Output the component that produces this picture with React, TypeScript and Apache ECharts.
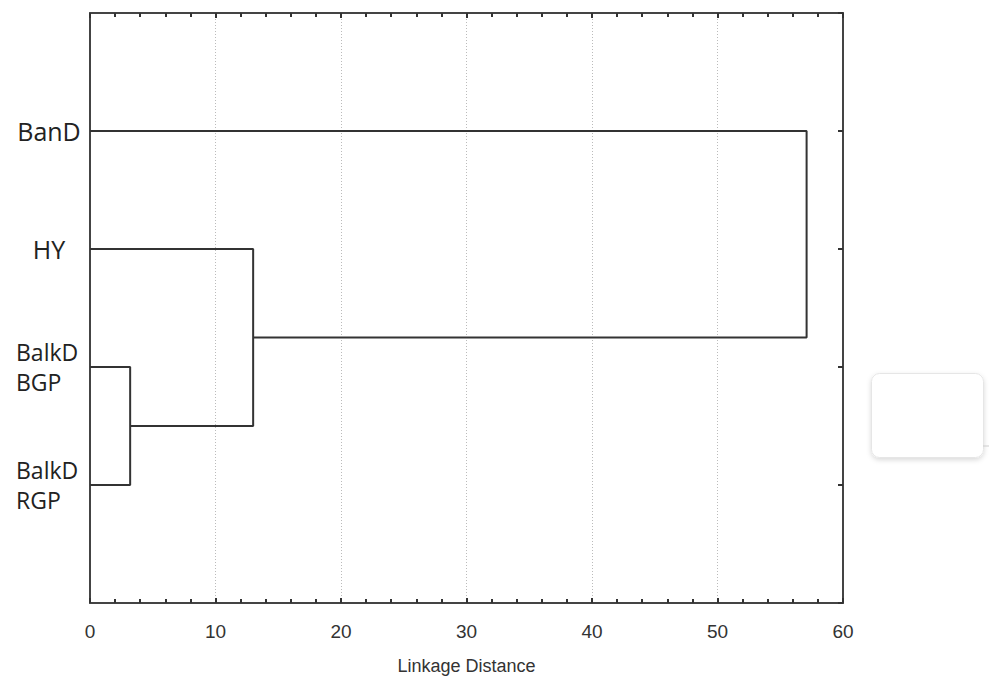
import React, { useEffect, useRef } from "react";
import * as echarts from "echarts";

// Leaves (top to bottom) and their y positions on the axis (0..5)
const leafLabels = ["BanD", "HY", "BalkD\nBGP", "BalkD\nRGP"];
const leafPositions = [1, 2, 3, 4];
// Agglomeration steps: node ids 0..3 are leaves, 4+ are clusters in merge order
const mergeLeft = [2, 1, 0];
const mergeRight = [3, 4, 5];
const mergeDistance = [3.2, 13.0, 57.1];
const xTicks = [0, 10, 20, 30, 40, 50, 60];

function buildBrackets() {
  const pos: number[] = [...leafPositions];
  const height: number[] = leafPositions.map(() => 0);
  const brackets: number[][][] = [];
  for (let i = 0; i < mergeDistance.length; i++) {
    const a = mergeLeft[i];
    const b = mergeRight[i];
    const d = mergeDistance[i];
    brackets.push([
      [height[a], pos[a]],
      [d, pos[a]],
      [d, pos[b]],
      [height[b], pos[b]],
    ]);
    pos.push((pos[a] + pos[b]) / 2);
    height.push(d);
  }
  return brackets;
}

export default function App() {
  const ref = useRef<HTMLDivElement>(null);
  useEffect(() => {
    if (!ref.current) return;
    const chart = echarts.init(ref.current, null, { renderer: "svg" });
    const brackets = buildBrackets();
    const frame = { show: true, onZero: false, lineStyle: { color: "#444", width: 2 } };
    const tick = { show: true, inside: true, length: 5, lineStyle: { color: "#333", width: 2 } };
    const minor = { show: true, splitNumber: 5, length: 4, lineStyle: { color: "#333", width: 2 } };
    chart.setOption({
      animation: false,
      backgroundColor: "#fff",
      grid: { left: 90, right: 146, top: 13, bottom: 89, containLabel: false },
      xAxis: [
        {
          type: "value",
          position: "bottom",
          min: xTicks[0],
          max: xTicks[xTicks.length - 1],
          interval: 10,
          name: "Linkage Distance",
          nameLocation: "middle",
          nameGap: 54,
          nameTextStyle: { fontFamily: "Liberation Sans", fontSize: 18, color: "#333" },
          axisLine: frame,
          axisTick: tick,
          minorTick: minor,
          axisLabel: { fontFamily: "Liberation Sans", fontSize: 19, color: "#333", margin: 19 },
          splitLine: { show: true, lineStyle: { color: "#bbb", type: [1, 2], width: 1 } },
          minorSplitLine: { show: false },
        },
        {
          type: "value",
          position: "top",
          min: xTicks[0],
          max: xTicks[xTicks.length - 1],
          interval: 10,
          axisLine: frame,
          axisTick: tick,
          minorTick: minor,
          axisLabel: { show: false },
          splitLine: { show: false },
        },
      ],
      yAxis: [
        {
          type: "value",
          min: 0,
          max: 5,
          interval: 1,
          inverse: true,
          position: "left",
          axisLine: frame,
          axisTick: { show: false },
          splitLine: { show: false },
          axisLabel: {
            align: "center",
            margin: 41,
            color: "#222",
            formatter: (v: number) => {
              const i = leafPositions.indexOf(Math.round(v));
              if (i < 0) return "";
              const lab = leafLabels[i];
              if (lab.includes("\n")) {
                return lab
                  .split("\n")
                  .map((p) => `{m|${p}}`)
                  .join("\n");
              }
              return `{s|${lab}}`;
            },
            rich: {
              s: { fontFamily: "Open Sans", fontSize: 25, color: "#222" },
              m: {
                fontFamily: "Open Sans",
                fontSize: 23,
                color: "#222",
                width: 66,
                align: "left",
                lineHeight: 30,
              },
            },
          },
        },
        {
          type: "value",
          min: 0,
          max: 5,
          interval: 1,
          inverse: true,
          position: "right",
          axisLine: frame,
          axisTick: tick,
          axisLabel: { show: false },
          splitLine: { show: false },
        },
      ],
      series: brackets.map((b) => ({
        type: "line",
        xAxisIndex: 0,
        yAxisIndex: 0,
        data: b,
        symbol: "none",
        lineStyle: { color: "#333", width: 2 },
        silent: true,
      })),
      graphic: [
        {
          type: "rect",
          left: 871,
          top: 373,
          shape: { width: 112, height: 84, r: 8 },
          style: {
            fill: "#fff",
            stroke: "#e6e6e6",
            lineWidth: 1,
            shadowBlur: 5,
            shadowOffsetY: 2,
            shadowColor: "rgba(0,0,0,0.15)",
          },
        },
        {
          type: "line",
          shape: { x1: 983, y1: 446, x2: 989, y2: 446 },
          style: { stroke: "#ccc", lineWidth: 1 },
        },
      ],
    });
    return () => chart.dispose();
  }, []);
  return (
    <div
      ref={ref}
      style={{ position: "fixed", left: 0, top: 0, width: 989, height: 692, background: "#fff" }}
    />
  );
}
